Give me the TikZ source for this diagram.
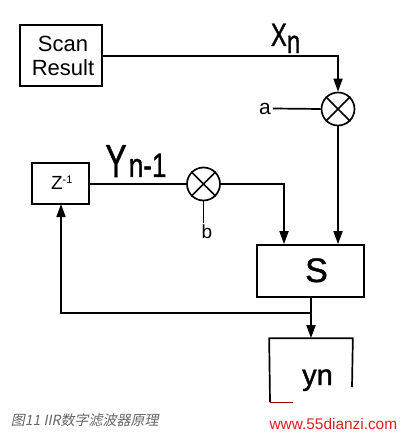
\documentclass[tikz,border=0pt]{standalone}
\usepackage{fontspec}
\setmainfont{Liberation Sans}
\newfontfamily\heavy[FakeBold=1.2]{Liberation Sans}
\newfontfamily\cjk[FakeSlant=0.2]{Noto Sans CJK SC}
\usetikzlibrary{arrows.meta,calc}
\begin{document}
\begin{tikzpicture}[x=1pt,y=-1pt,
  line width=1.7pt,
  box/.style={draw,rectangle,inner sep=0pt},
  mult/.style={draw,circle,minimum size=33pt,inner sep=0pt},
  arr/.style={-{Triangle[length=13pt,width=9pt]}},
  lbl/.style={inner sep=0pt}]
\useasboundingbox[fill=white] (0,0) rectangle (404,435);
% boxes
\node[box,minimum width=82pt,minimum height=61pt,align=center,
      font=\fontsize{22}{24}\selectfont] (scan) at (61,55.5) {\hspace*{4pt}Scan\\\hspace*{4pt}Result};
\node[box,minimum width=57pt,minimum height=41pt] (z) at (60.5,183.5) {};
\node[lbl,anchor=base,font=\fontsize{19}{19}\selectfont] (zl) at (62,190) {Z\textsuperscript{\fontsize{11}{11}\selectfont -1}};
\node[box,minimum width=107pt,minimum height=52pt] (s) at (310.5,271) {};
\node[lbl,anchor=base,font=\heavy\fontsize{34}{34}\selectfont] (sl) at (316.5,282) {S};
\node[minimum width=82pt,minimum height=63pt,inner sep=0pt] (y) at (311,370.5) {};
\node[lbl,anchor=base,font=\heavy\fontsize{29}{29}\selectfont] (yl) at (317.5,385) {yn};
% multipliers
\node[mult] (m1) at (338,109) {};
\node[mult] (m2) at (203.5,184) {};
\draw (m1.north west) -- (m1.south east) (m1.north east) -- (m1.south west);
\draw (m2.north west) -- (m2.south east) (m2.north east) -- (m2.south west);
% labels
\node[lbl,anchor=base west,font=\heavy\fontsize{24}{24}\selectfont] (xl) at (270,46) {\scalebox{1}[1.35]{X\raisebox{-5.2pt}{n}}};
\node[lbl,anchor=base west,font=\heavy\fontsize{32}{32}\selectfont] (yl1) at (104.5,177) {\scalebox{1}[1.45]{Y}};
\node[lbl,anchor=base west,font=\heavy\fontsize{26}{26}\selectfont] (yl2) at (128,177) {\scalebox{1}[1.3]{n-1}};
\node[lbl,anchor=base,font=\fontsize{21}{21}\selectfont] (a) at (265,115) {a};
\node[lbl,anchor=base,font=\fontsize{19}{19}\selectfont] (b) at (207,238) {b};
% helper coordinates
\coordinate (c1) at (338,56);
\coordinate (ae) at (273,108.5);
\coordinate (c2) at (284,184);
\coordinate (bt) at (203.5,223);
\coordinate (fb) at (311,313);
\coordinate (zb) at (61,204);
\coordinate (yb1) at (270,402);
\coordinate (yb2) at (293,402);
\coordinate (yr) at (352,387);
% connectors
\draw[arr] (scan.east |- c1) -- (c1) -- (m1.north);
\draw (ae) -- (m1.west);
\draw[arr] (m1.south) -- (m1.south |- s.north);
\draw (z.east |- m2.west) -- (m2.west);
\draw[arr] (m2.east) -- (c2) -- (c2 |- s.north);
\draw (m2.south) -- (bt);
\draw[arr] (fb |- s.south) -- (fb |- y.north);
\draw[arr] (fb) -- (fb -| zb) -- (zb);
% partial output box
\draw (yb1) -- (y.north west) -- (y.north east) -- (yr);
\draw[line width=1pt,red!60!black] (yb1) -- (yb2);
% caption
\node[lbl,anchor=base west,text=black!60,font=\cjk\fontsize{14}{14}\selectfont] (cap) at (10,425) {图11 IIR数字滤波器原理};
\node[lbl,anchor=base east,text={rgb,255:red,225;green,30;blue,30},font=\fontsize{15.4}{15.4}\selectfont] (wm) at (398,429) {www.55dianzi.com};
\end{tikzpicture}
\end{document}
